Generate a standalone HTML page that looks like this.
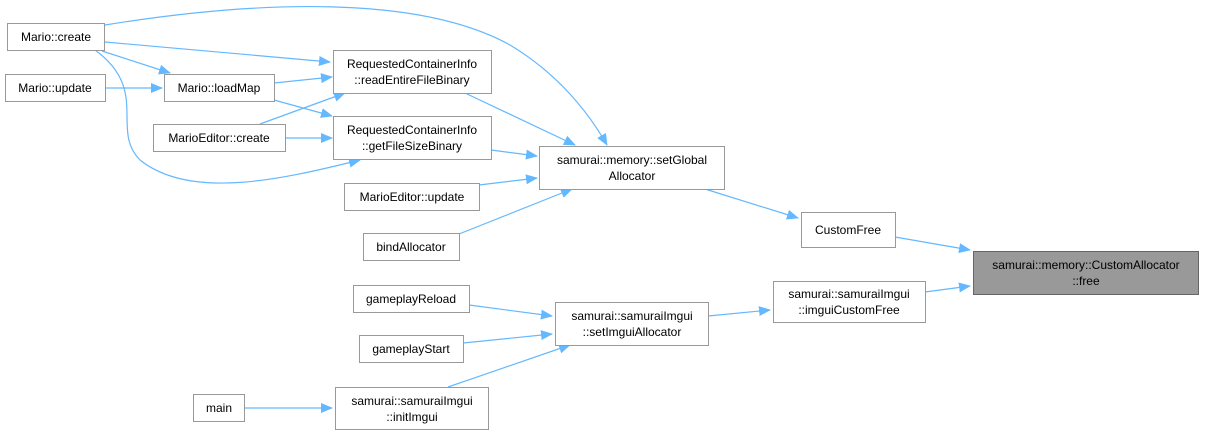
<!DOCTYPE html>
<html><head><meta charset="utf-8"><style>
body{margin:0;background:#fff;}
svg{display:block;}
text{font-family:"Liberation Sans",sans-serif;font-size:12px;fill:#000;}
</style></head><body>
<svg width="1205" height="434" viewBox="0 0 1205 434" xmlns="http://www.w3.org/2000/svg">
<defs><marker id="a" markerWidth="12" markerHeight="10" refX="11" refY="5" orient="auto" markerUnits="userSpaceOnUse"><path d="M0,0 L12,5 L0,10 z" fill="#63b8ff"/></marker></defs>
<g fill="none" stroke="#63b8ff" stroke-width="1.2" marker-end="url(#a)">
<path d="M105,25 C260,0 420,-5 510,45 C560,75 590,115 607,145"/>
<path d="M105,42 L330,62"/>
<path d="M102,51 L170,73"/>
<path d="M95,50 C150,90 110,130 140,160 C190,200 280,180 360,160"/>
<path d="M105,88 L162,88"/>
<path d="M274,83 L332,77"/>
<path d="M274,100 L332,116"/>
<path d="M260,124 L345,93"/>
<path d="M285,138 L332,138"/>
<path d="M465,93 L575,145"/>
<path d="M491,150 L537,156"/>
<path d="M479,185 L537,178"/>
<path d="M459,234 L572,189"/>
<path d="M705,189 L798,218"/>
<path d="M895,237 L970,250"/>
<path d="M925,292 L970,286"/>
<path d="M708,316 L770,310"/>
<path d="M469,305 L552,316"/>
<path d="M463,343 L552,334"/>
<path d="M448,387 L570,345"/>
<path d="M244,408 L332,408"/>
</g>
<g fill="#fff" stroke="#999" stroke-width="1">
<rect x="7.5" y="23.5" width="97" height="27"/>
<rect x="5.5" y="74.5" width="100" height="27"/>
<rect x="164.5" y="74.5" width="110" height="27"/>
<rect x="153.5" y="124.5" width="132" height="27"/>
<rect x="333.5" y="50.5" width="158" height="43"/>
<rect x="333.5" y="116.5" width="158" height="43"/>
<rect x="344.5" y="183.5" width="135" height="27"/>
<rect x="363.5" y="233.5" width="96" height="27"/>
<rect x="539.5" y="146.5" width="185" height="43"/>
<rect x="801.5" y="212.5" width="94" height="35"/>
<rect x="973.5" y="251.5" width="225" height="43" fill="#999" stroke="#666"/>
<rect x="773.5" y="281.5" width="152" height="41"/>
<rect x="555.5" y="302.5" width="153" height="43"/>
<rect x="353.5" y="285.5" width="116" height="27"/>
<rect x="359.5" y="335.5" width="104" height="27"/>
<rect x="335.5" y="387.5" width="153" height="42"/>
<rect x="193.5" y="394.5" width="51" height="27"/>
</g>
<g text-anchor="middle">
<text x="56" y="41">Mario::create</text>
<text x="55" y="92">Mario::update</text>
<text x="219" y="92">Mario::loadMap</text>
<text x="219" y="142">MarioEditor::create</text>
<text x="412" y="68">RequestedContainerInfo</text>
<text x="412" y="84">::readEntireFileBinary</text>
<text x="412" y="134">RequestedContainerInfo</text>
<text x="412" y="150">::getFileSizeBinary</text>
<text x="412" y="201">MarioEditor::update</text>
<text x="411" y="251">bindAllocator</text>
<text x="632" y="164">samurai::memory::setGlobal</text>
<text x="632" y="180">Allocator</text>
<text x="848" y="234">CustomFree</text>
<text x="1086" y="269">samurai::memory::CustomAllocator</text>
<text x="1086" y="285">::free</text>
<text x="849" y="298">samurai::samuraiImgui</text>
<text x="849" y="314">::imguiCustomFree</text>
<text x="632" y="320">samurai::samuraiImgui</text>
<text x="632" y="336">::setImguiAllocator</text>
<text x="411" y="303">gameplayReload</text>
<text x="411" y="353">gameplayStart</text>
<text x="412" y="405">samurai::samuraiImgui</text>
<text x="412" y="421">::initImgui</text>
<text x="219" y="412">main</text>
</g>
</svg>
</body></html>
